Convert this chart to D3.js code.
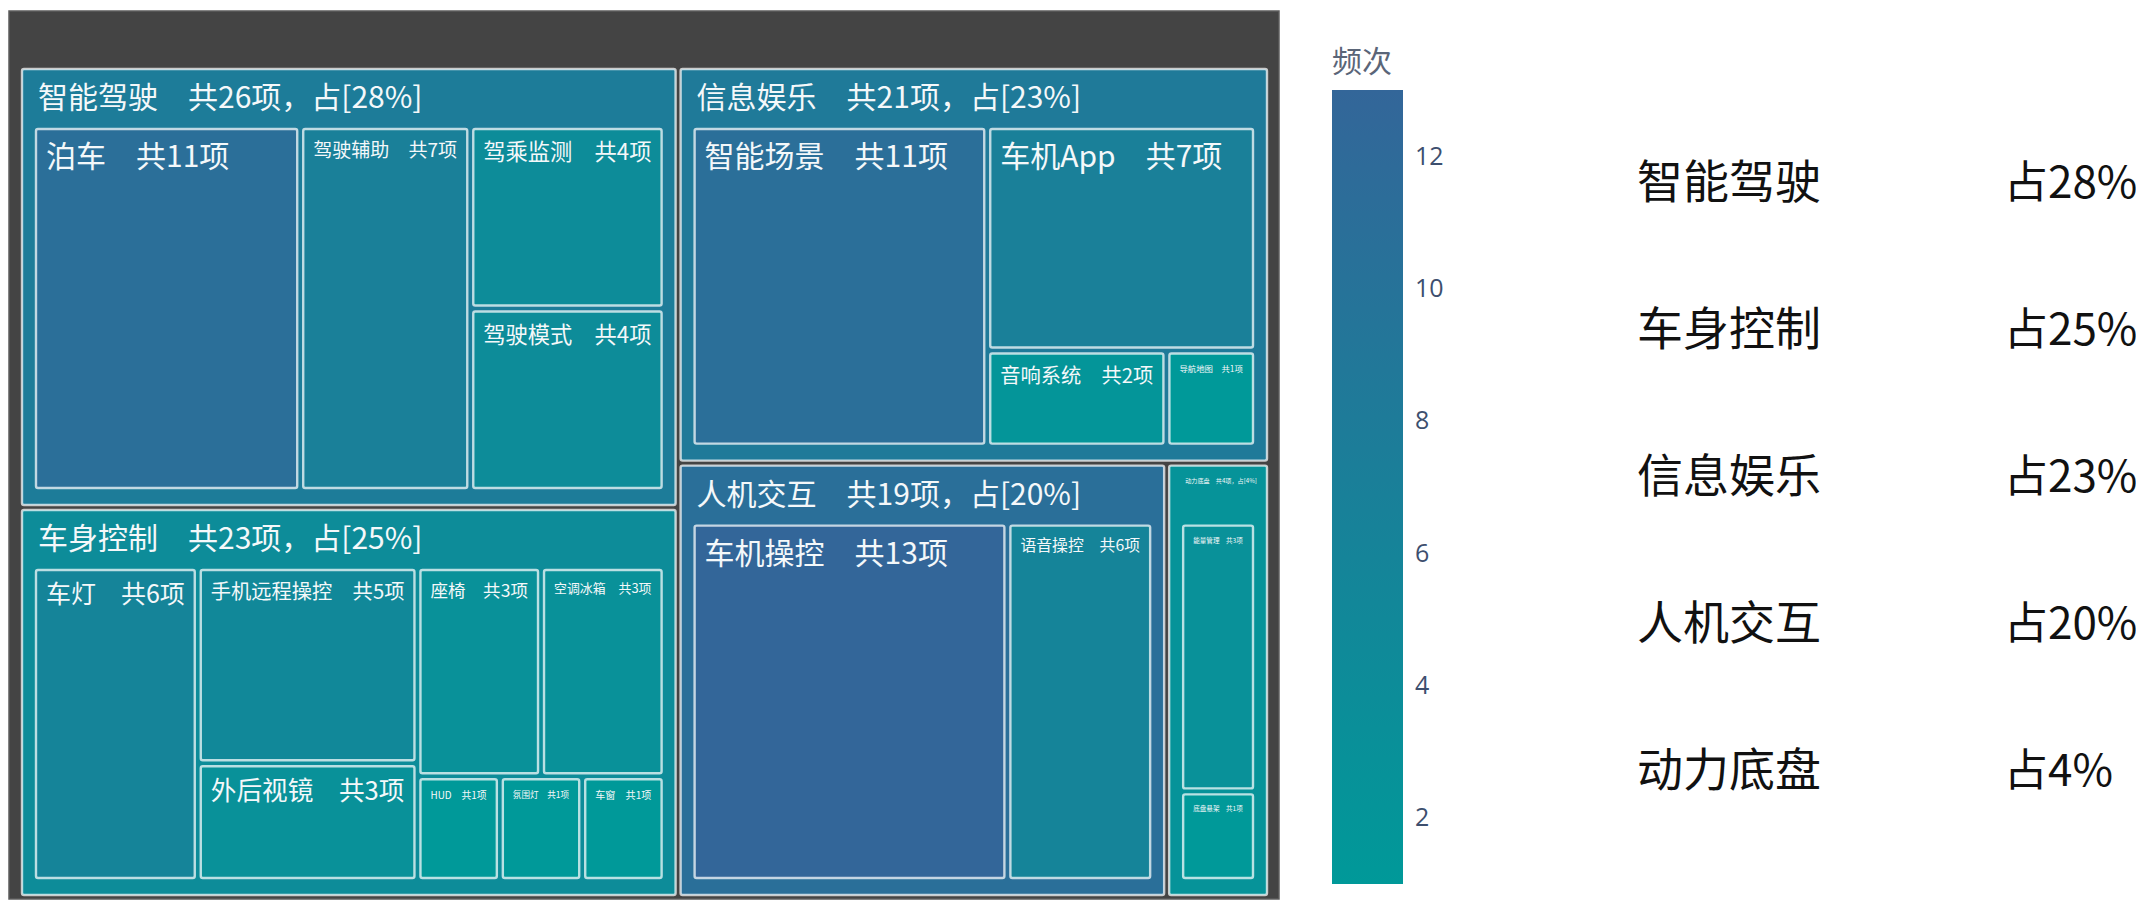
<!DOCTYPE html>
<html lang="zh">
<head>
<meta charset="utf-8">
<title>功能频次树图</title>
<script src="https://d3js.org/d3.v7.min.js"></script>
<style>
  body { margin: 0; background: #fff; }
  svg text { font-family: "Noto Sans CJK SC", "Noto Sans", sans-serif; }
</style>
</head>
<body>
<div id="container"></div>
<script>
// first level: function domains, and their share shown in the legend
const groups = ["智能驾驶", "车身控制", "信息娱乐", "人机交互", "动力底盘"];
const groupShare = [28, 25, 23, 20, 4];

// second level: functions, their domain and how often they were named
const items = ["泊车", "驾驶辅助", "驾乘监测", "驾驶模式",
  "车灯", "手机远程操控", "外后视镜", "座椅", "空调冰箱", "HUD", "氛围灯", "车窗",
  "智能场景", "车机App", "音响系统", "导航地图",
  "车机操控", "语音操控",
  "能量管理", "底盘悬架"];
const itemGroup = ["智能驾驶", "智能驾驶", "智能驾驶", "智能驾驶",
  "车身控制", "车身控制", "车身控制", "车身控制", "车身控制", "车身控制", "车身控制", "车身控制",
  "信息娱乐", "信息娱乐", "信息娱乐", "信息娱乐",
  "人机交互", "人机交互",
  "动力底盘", "动力底盘"];
const itemCount = [11, 7, 4, 4,
  6, 5, 3, 3, 3, 1, 1, 1,
  11, 7, 2, 1,
  13, 6,
  3, 1];

// colour bar
const colorDomain = [1, 13];
const colorTicks = [2, 4, 6, 8, 10, 12];

var w = 2136;
var h = 902;
const svg = d3.select("div#container")
  .append("svg")
  .attr("width", w)
  .attr("height", h);

// ---- treemap ----
const box = { x0: 9, y0: 11, x1: 1279, y1: 899 };
const color = d3.scaleLinear().domain(colorDomain).range(["#009999", "#336699"]);

const rows = [{ id: "root" }]
  .concat(groups.map(g => ({ id: g, parent: "root" })))
  .concat(items.map((d, i) => ({ id: d, parent: itemGroup[i], count: itemCount[i] })));

const root = d3.stratify().id(d => d.id).parentId(d => d.parent)(rows)
  .sum(d => d.count || 0)
  .sort((a, b) => b.value - a.value);

// plain squarify, run on a slightly widened box and squeezed back,
// so rows prefer to stand as columns like the original layout
const squarify = d3.treemapSquarify.ratio(1);
function tile(node, x0, y0, x1, y1) {
  const k = 1.06;
  squarify(node, x0, y0, x0 + (x1 - x0) * k, y1);
  node.children.forEach(c => {
    c.x0 = x0 + (c.x0 - x0) / k;
    c.x1 = x0 + (c.x1 - x0) / k;
  });
}

d3.treemap()
  .tile(tile)
  .size([box.x1 - box.x0, box.y1 - box.y0])
  .paddingInner(d => d.depth === 0 ? 5 : 6)
  .paddingTop(d => d.depth === 0 ? 58 : 60)
  .paddingLeft(d => d.depth === 0 ? 13 : 14)
  .paddingRight(d => d.depth === 0 ? 12 : 14)
  .paddingBottom(d => d.depth === 0 ? 4 : 17)(root);

const tm = svg.append("g").attr("transform", `translate(${box.x0},${box.y0})`);

tm.append("rect")
  .attr("width", box.x1 - box.x0)
  .attr("height", box.y1 - box.y0)
  .attr("fill", "#444")
  .attr("stroke", "#5c5c5c")
  .attr("stroke-width", 1.5);

// parent colour = value-weighted mean of its leaves
function colorValue(d) {
  if (!d.children) return d.value;
  return d3.sum(d.leaves(), l => l.value * l.value) / d.value;
}

const nodes = root.descendants().filter(d => d.depth > 0);

tm.selectAll("rect.cell")
  .data(nodes)
  .enter()
  .append("rect")
  .attr("class", "cell")
  .attr("x", d => d.x0)
  .attr("y", d => d.y0)
  .attr("width", d => d.x1 - d.x0)
  .attr("height", d => d.y1 - d.y0)
  .attr("rx", 2)
  .attr("fill", d => color(colorValue(d)))
  .attr("stroke", "rgba(255,255,255,0.72)")
  .attr("stroke-width", 2.4);

function label(d) {
  if (d.depth === 1) {
    const share = groupShare[groups.indexOf(d.id)];
    return `${d.id}\u3000共${d.value}项，占[${share}%]`;
  }
  return `${d.id}\u3000共${d.value}项`;
}

// text shrinks to fit the box width
const maxFs = 30;
tm.selectAll("text.lbl")
  .data(nodes)
  .enter()
  .append("text")
  .attr("class", "lbl")
  .attr("fill", "#f4f8fa")
  .attr("font-size", maxFs)
  .text(label)
  .each(function (d) {
    const padX = d.depth === 1 ? 16 : 10;
    const len = this.getComputedTextLength();
    const avail = (d.x1 - d.x0) - 2 * padX + (d.depth === 1 ? 6 : 0);
    const fs = Math.min(maxFs, maxFs * avail / len);
    d3.select(this)
      .attr("font-size", fs)
      .attr("x", d.x0 + padX)
      .attr("y", d.y0 + (d.depth === 1 ? 12 : 11) + 0.9 * fs);
  });

// ---- colour bar ----
const cb = { x: 1332, y0: 90, y1: 884, w: 71 };
const grad = svg.append("defs").append("linearGradient")
  .attr("id", "cbGrad")
  .attr("x1", 0).attr("y1", 1).attr("x2", 0).attr("y2", 0);
grad.append("stop").attr("offset", "0%").attr("stop-color", color(colorDomain[0]));
grad.append("stop").attr("offset", "100%").attr("stop-color", color(colorDomain[1]));

svg.append("rect")
  .attr("x", cb.x)
  .attr("y", cb.y0)
  .attr("width", cb.w)
  .attr("height", cb.y1 - cb.y0)
  .attr("fill", "url(#cbGrad)");

const cbScale = d3.scaleLinear().domain(colorDomain).range([cb.y1, cb.y0]);
const cbAxis = svg.append("g")
  .attr("transform", `translate(${cb.x + cb.w},0)`)
  .call(d3.axisRight(cbScale).tickValues(colorTicks).tickSize(0).tickPadding(12));
cbAxis.select(".domain").remove();
cbAxis.selectAll("text")
  .attr("font-size", 25)
  .attr("fill", "#3d4f6e")
  .style("font-family", "'Open Sans', 'DejaVu Sans', sans-serif");

svg.append("text")
  .attr("x", cb.x)
  .attr("y", 72)
  .attr("font-size", 30)
  .attr("fill", "#5a6578")
  .text("频次");

// ---- legend on the right ----
const lg = svg.append("g");
lg.selectAll("text.name")
  .data(groups)
  .enter()
  .append("text")
  .attr("class", "name")
  .attr("x", 1637)
  .attr("y", (d, i) => 198 + i * 147)
  .attr("font-size", 46)
  .attr("fill", "#111")
  .text(d => d);

lg.selectAll("text.share")
  .data(groupShare)
  .enter()
  .append("text")
  .attr("class", "share")
  .attr("x", 2004)
  .attr("y", (d, i) => 198 + i * 147)
  .attr("font-size", 44)
  .attr("fill", "#111")
  .text(d => `占${d}%`);
</script>
</body>
</html>
